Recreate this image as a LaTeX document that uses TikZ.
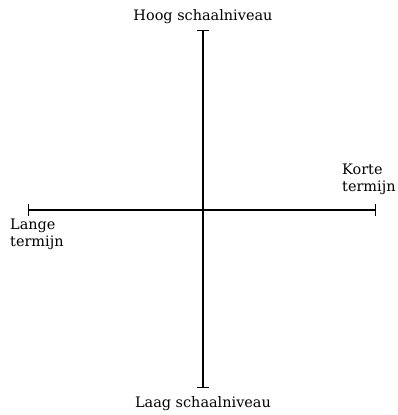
\documentclass[tikz,border=0pt]{standalone}
\usepackage{fontspec}
\setmainfont{DejaVu Serif}
\usetikzlibrary{arrows.meta}

\begin{document}
\begin{tikzpicture}[x=1bp, y=1bp, axis/.style={{Bar[width=12bp]}-{Bar[width=12bp]}, line width=1.4bp}, lbl/.style={font=\fontsize{14.5}{17}\selectfont, inner sep=0pt, align=left}]
\useasboundingbox (0,0) rectangle (398,415);
\coordinate (top) at (203,385);
\coordinate (bot) at (203,27);
\coordinate (lft) at (28,205);
\coordinate (rgt) at (376,205);
\draw[axis] (bot)--(top);
\draw[axis] (lft)--(rgt);
\node[lbl] (hoog) at (203,398) {Hoog schaalniveau};
\node[lbl] (laag) at (203,11) {Laag schaalniveau};
\node[lbl, anchor=west] (korte) at (342,236) {Korte\\termijn};
\node[lbl, anchor=west] (lange) at (10,181) {Lange\\termijn};
\end{tikzpicture}
\end{document}
